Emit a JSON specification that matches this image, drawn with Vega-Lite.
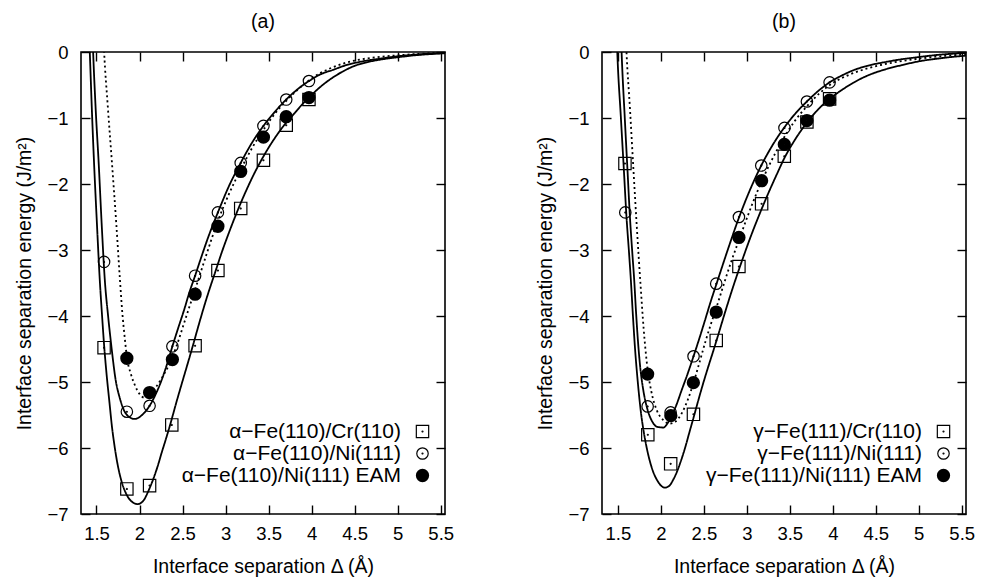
{
  "$schema": "https://vega.github.io/schema/vega-lite/v6.json",
  "background": "white",
  "padding": {"left": 14, "top": 10, "right": 5, "bottom": 5},
  "config": {
    "font": "Liberation Sans",
    "view": {"stroke": "black", "strokeWidth": 1.6},
    "axis": {"domain": false, "grid": false, "ticks": true, "tickColor": "black", "tickWidth": 1.4, "tickSize": -9, "labelColor": "black", "labelFontSize": 18.5, "labelFont": "Liberation Sans", "titleFont": "Liberation Sans", "titleFontSize": 19.5, "titleFontWeight": "normal", "titleColor": "black"},
    "title": {"fontSize": 19.5, "fontWeight": "normal", "font": "Liberation Sans", "color": "black"},
    "legend": {"orient": "none", "legendX": 331, "legendY": 369, "title": null, "labelFontSize": 21, "labelFont": "Liberation Sans", "labelColor": "black", "labelAlign": "right", "labelOffset": -32, "labelLimit": 400, "symbolSize": 169, "symbolStrokeWidth": 1.2, "symbolStrokeColor": "black", "symbolFillColor": "transparent", "rowPadding": 0, "padding": 0}
  },
  "datasets": {
    "pts_a": [
      {"series": "α−Fe(110)/Cr(110)", "x": 1.588, "y": -4.48},
      {"series": "α−Fe(110)/Cr(110)", "x": 1.853, "y": -6.62},
      {"series": "α−Fe(110)/Cr(110)", "x": 2.117, "y": -6.57},
      {"series": "α−Fe(110)/Cr(110)", "x": 2.375, "y": -5.65},
      {"series": "α−Fe(110)/Cr(110)", "x": 2.646, "y": -4.45},
      {"series": "α−Fe(110)/Cr(110)", "x": 2.911, "y": -3.31},
      {"series": "α−Fe(110)/Cr(110)", "x": 3.176, "y": -2.37},
      {"series": "α−Fe(110)/Cr(110)", "x": 3.44, "y": -1.64},
      {"series": "α−Fe(110)/Cr(110)", "x": 3.705, "y": -1.11},
      {"series": "α−Fe(110)/Cr(110)", "x": 3.969, "y": -0.72},
      {"series": "α−Fe(110)/Ni(111)", "x": 1.588, "y": -3.18},
      {"series": "α−Fe(110)/Ni(111)", "x": 1.853, "y": -5.45},
      {"series": "α−Fe(110)/Ni(111)", "x": 2.117, "y": -5.36},
      {"series": "α−Fe(110)/Ni(111)", "x": 2.382, "y": -4.46},
      {"series": "α−Fe(110)/Ni(111)", "x": 2.646, "y": -3.39},
      {"series": "α−Fe(110)/Ni(111)", "x": 2.911, "y": -2.43},
      {"series": "α−Fe(110)/Ni(111)", "x": 3.176, "y": -1.68},
      {"series": "α−Fe(110)/Ni(111)", "x": 3.44, "y": -1.12},
      {"series": "α−Fe(110)/Ni(111)", "x": 3.705, "y": -0.72},
      {"series": "α−Fe(110)/Ni(111)", "x": 3.969, "y": -0.44},
      {"series": "α−Fe(110)/Ni(111) EAM", "x": 1.853, "y": -4.64},
      {"series": "α−Fe(110)/Ni(111) EAM", "x": 2.117, "y": -5.16},
      {"series": "α−Fe(110)/Ni(111) EAM", "x": 2.382, "y": -4.66},
      {"series": "α−Fe(110)/Ni(111) EAM", "x": 2.646, "y": -3.67},
      {"series": "α−Fe(110)/Ni(111) EAM", "x": 2.911, "y": -2.64},
      {"series": "α−Fe(110)/Ni(111) EAM", "x": 3.176, "y": -1.81},
      {"series": "α−Fe(110)/Ni(111) EAM", "x": 3.44, "y": -1.29},
      {"series": "α−Fe(110)/Ni(111) EAM", "x": 3.705, "y": -0.98},
      {"series": "α−Fe(110)/Ni(111) EAM", "x": 3.969, "y": -0.69}
    ],
    "pts_b": [
      {"series": "γ−Fe(111)/Cr(110)", "x": 1.582, "y": -1.69},
      {"series": "γ−Fe(111)/Cr(110)", "x": 1.848, "y": -5.80},
      {"series": "γ−Fe(111)/Cr(110)", "x": 2.114, "y": -6.24},
      {"series": "γ−Fe(111)/Cr(110)", "x": 2.379, "y": -5.49},
      {"series": "γ−Fe(111)/Cr(110)", "x": 2.644, "y": -4.37},
      {"series": "γ−Fe(111)/Cr(110)", "x": 2.908, "y": -3.25},
      {"series": "γ−Fe(111)/Cr(110)", "x": 3.172, "y": -2.30},
      {"series": "γ−Fe(111)/Cr(110)", "x": 3.436, "y": -1.58},
      {"series": "γ−Fe(111)/Cr(110)", "x": 3.699, "y": -1.06},
      {"series": "γ−Fe(111)/Cr(110)", "x": 3.963, "y": -0.71},
      {"series": "γ−Fe(111)/Ni(111)", "x": 1.586, "y": -2.43},
      {"series": "γ−Fe(111)/Ni(111)", "x": 1.846, "y": -5.37},
      {"series": "γ−Fe(111)/Ni(111)", "x": 2.113, "y": -5.46},
      {"series": "γ−Fe(111)/Ni(111)", "x": 2.38, "y": -4.61},
      {"series": "γ−Fe(111)/Ni(111)", "x": 2.644, "y": -3.51},
      {"series": "γ−Fe(111)/Ni(111)", "x": 2.908, "y": -2.50},
      {"series": "γ−Fe(111)/Ni(111)", "x": 3.168, "y": -1.72},
      {"series": "γ−Fe(111)/Ni(111)", "x": 3.438, "y": -1.15},
      {"series": "γ−Fe(111)/Ni(111)", "x": 3.699, "y": -0.75},
      {"series": "γ−Fe(111)/Ni(111)", "x": 3.963, "y": -0.46},
      {"series": "γ−Fe(111)/Ni(111) EAM", "x": 1.846, "y": -4.88},
      {"series": "γ−Fe(111)/Ni(111) EAM", "x": 2.116, "y": -5.51},
      {"series": "γ−Fe(111)/Ni(111) EAM", "x": 2.378, "y": -5.01},
      {"series": "γ−Fe(111)/Ni(111) EAM", "x": 2.644, "y": -3.94},
      {"series": "γ−Fe(111)/Ni(111) EAM", "x": 2.908, "y": -2.81},
      {"series": "γ−Fe(111)/Ni(111) EAM", "x": 3.172, "y": -1.95},
      {"series": "γ−Fe(111)/Ni(111) EAM", "x": 3.436, "y": -1.40},
      {"series": "γ−Fe(111)/Ni(111) EAM", "x": 3.699, "y": -1.04},
      {"series": "γ−Fe(111)/Ni(111) EAM", "x": 3.963, "y": -0.73}
    ],
    "fit_a": [
      {"series": "Cr", "x": 1.40, "y": 0.7}, {"series": "Cr", "x": 1.422, "y": 0}, {"series": "Cr", "x": 1.447, "y": -0.9}, {"series": "Cr", "x": 1.473, "y": -1.72}, {"series": "Cr", "x": 1.505, "y": -2.6}, {"series": "Cr", "x": 1.538, "y": -3.45}, {"series": "Cr", "x": 1.565, "y": -4.0}, {"series": "Cr", "x": 1.589, "y": -4.45}, {"series": "Cr", "x": 1.62, "y": -4.92}, {"series": "Cr", "x": 1.65, "y": -5.3}, {"series": "Cr", "x": 1.68, "y": -5.68}, {"series": "Cr", "x": 1.712, "y": -5.99}, {"series": "Cr", "x": 1.75, "y": -6.28}, {"series": "Cr", "x": 1.79, "y": -6.5}, {"series": "Cr", "x": 1.84, "y": -6.68}, {"series": "Cr", "x": 1.90, "y": -6.8}, {"series": "Cr", "x": 1.98, "y": -6.85}, {"series": "Cr", "x": 2.05, "y": -6.79}, {"series": "Cr", "x": 2.10, "y": -6.66}, {"series": "Cr", "x": 2.157, "y": -6.48}, {"series": "Cr", "x": 2.21, "y": -6.28}, {"series": "Cr", "x": 2.26, "y": -6.06}, {"series": "Cr", "x": 2.31, "y": -5.85}, {"series": "Cr", "x": 2.362, "y": -5.62}, {"series": "Cr", "x": 2.43, "y": -5.30}, {"series": "Cr", "x": 2.49, "y": -5.03}, {"series": "Cr", "x": 2.56, "y": -4.72}, {"series": "Cr", "x": 2.62, "y": -4.45}, {"series": "Cr", "x": 2.70, "y": -4.08}, {"series": "Cr", "x": 2.78, "y": -3.73}, {"series": "Cr", "x": 2.886, "y": -3.31}, {"series": "Cr", "x": 2.96, "y": -3.02}, {"series": "Cr", "x": 3.05, "y": -2.70}, {"series": "Cr", "x": 3.15, "y": -2.37}, {"series": "Cr", "x": 3.25, "y": -2.07}, {"series": "Cr", "x": 3.33, "y": -1.85}, {"series": "Cr", "x": 3.415, "y": -1.64}, {"series": "Cr", "x": 3.50, "y": -1.45}, {"series": "Cr", "x": 3.59, "y": -1.27}, {"series": "Cr", "x": 3.68, "y": -1.11}, {"series": "Cr", "x": 3.80, "y": -0.93}, {"series": "Cr", "x": 3.90, "y": -0.78}, {"series": "Cr", "x": 4.0, "y": -0.65}, {"series": "Cr", "x": 4.1, "y": -0.53}, {"series": "Cr", "x": 4.22, "y": -0.41}, {"series": "Cr", "x": 4.356, "y": -0.30}, {"series": "Cr", "x": 4.5, "y": -0.21}, {"series": "Cr", "x": 4.627, "y": -0.16}, {"series": "Cr", "x": 4.8, "y": -0.115}, {"series": "Cr", "x": 5.0, "y": -0.08}, {"series": "Cr", "x": 5.2, "y": -0.05}, {"series": "Cr", "x": 5.4, "y": -0.03}, {"series": "Cr", "x": 5.55, "y": -0.018},
      {"series": "Ni", "x": 1.445, "y": 0.6}, {"series": "Ni", "x": 1.461, "y": 0}, {"series": "Ni", "x": 1.49, "y": -0.85}, {"series": "Ni", "x": 1.527, "y": -1.72}, {"series": "Ni", "x": 1.56, "y": -2.6}, {"series": "Ni", "x": 1.597, "y": -3.46}, {"series": "Ni", "x": 1.635, "y": -4.0}, {"series": "Ni", "x": 1.674, "y": -4.47}, {"series": "Ni", "x": 1.724, "y": -4.98}, {"series": "Ni", "x": 1.77, "y": -5.24}, {"series": "Ni", "x": 1.81, "y": -5.4}, {"series": "Ni", "x": 1.87, "y": -5.52}, {"series": "Ni", "x": 1.944, "y": -5.56}, {"series": "Ni", "x": 2.03, "y": -5.5}, {"series": "Ni", "x": 2.117, "y": -5.36}, {"series": "Ni", "x": 2.19, "y": -5.18}, {"series": "Ni", "x": 2.254, "y": -4.98}, {"series": "Ni", "x": 2.32, "y": -4.73}, {"series": "Ni", "x": 2.382, "y": -4.46}, {"series": "Ni", "x": 2.45, "y": -4.18}, {"series": "Ni", "x": 2.52, "y": -3.9}, {"series": "Ni", "x": 2.58, "y": -3.64}, {"series": "Ni", "x": 2.646, "y": -3.39}, {"series": "Ni", "x": 2.72, "y": -3.1}, {"series": "Ni", "x": 2.8, "y": -2.8}, {"series": "Ni", "x": 2.911, "y": -2.43}, {"series": "Ni", "x": 3.04, "y": -2.03}, {"series": "Ni", "x": 3.176, "y": -1.68}, {"series": "Ni", "x": 3.3, "y": -1.39}, {"series": "Ni", "x": 3.44, "y": -1.12}, {"series": "Ni", "x": 3.57, "y": -0.91}, {"series": "Ni", "x": 3.705, "y": -0.72}, {"series": "Ni", "x": 3.85, "y": -0.55}, {"series": "Ni", "x": 3.969, "y": -0.44}, {"series": "Ni", "x": 4.1, "y": -0.34}, {"series": "Ni", "x": 4.25, "y": -0.27}, {"series": "Ni", "x": 4.4, "y": -0.2}, {"series": "Ni", "x": 4.6, "y": -0.14}, {"series": "Ni", "x": 4.8, "y": -0.1}, {"series": "Ni", "x": 5.0, "y": -0.065}, {"series": "Ni", "x": 5.25, "y": -0.035}, {"series": "Ni", "x": 5.55, "y": -0.015},
      {"series": "EAM", "x": 1.575, "y": 0.4}, {"series": "EAM", "x": 1.589, "y": 0}, {"series": "EAM", "x": 1.63, "y": -0.8}, {"series": "EAM", "x": 1.682, "y": -1.72}, {"series": "EAM", "x": 1.73, "y": -2.6}, {"series": "EAM", "x": 1.77, "y": -3.4}, {"series": "EAM", "x": 1.8, "y": -3.95}, {"series": "EAM", "x": 1.83, "y": -4.35}, {"series": "EAM", "x": 1.853, "y": -4.62}, {"series": "EAM", "x": 1.9, "y": -4.88}, {"series": "EAM", "x": 1.95, "y": -5.06}, {"series": "EAM", "x": 2.0, "y": -5.18}, {"series": "EAM", "x": 2.06, "y": -5.24}, {"series": "EAM", "x": 2.117, "y": -5.2}, {"series": "EAM", "x": 2.19, "y": -5.08}, {"series": "EAM", "x": 2.254, "y": -4.95}, {"series": "EAM", "x": 2.32, "y": -4.8}, {"series": "EAM", "x": 2.382, "y": -4.62}, {"series": "EAM", "x": 2.44, "y": -4.42}, {"series": "EAM", "x": 2.5, "y": -4.18}, {"series": "EAM", "x": 2.57, "y": -3.9}, {"series": "EAM", "x": 2.646, "y": -3.6}, {"series": "EAM", "x": 2.78, "y": -3.06}, {"series": "EAM", "x": 2.911, "y": -2.56}, {"series": "EAM", "x": 3.04, "y": -2.15}, {"series": "EAM", "x": 3.176, "y": -1.78}, {"series": "EAM", "x": 3.31, "y": -1.45}, {"series": "EAM", "x": 3.44, "y": -1.18}, {"series": "EAM", "x": 3.57, "y": -0.94}, {"series": "EAM", "x": 3.705, "y": -0.74}, {"series": "EAM", "x": 3.83, "y": -0.58}, {"series": "EAM", "x": 3.969, "y": -0.43}, {"series": "EAM", "x": 4.1, "y": -0.32}, {"series": "EAM", "x": 4.23, "y": -0.24}, {"series": "EAM", "x": 4.356, "y": -0.18}, {"series": "EAM", "x": 4.5, "y": -0.13}, {"series": "EAM", "x": 4.75, "y": -0.08}, {"series": "EAM", "x": 5.0, "y": -0.05}, {"series": "EAM", "x": 5.25, "y": -0.028}, {"series": "EAM", "x": 5.55, "y": -0.012}
    ],
    "fit_b": [
      {"series": "Cr", "x": 1.48, "y": 0.5}, {"series": "Cr", "x": 1.493, "y": 0}, {"series": "Cr", "x": 1.535, "y": -1.0}, {"series": "Cr", "x": 1.57, "y": -1.8}, {"series": "Cr", "x": 1.6, "y": -2.5}, {"series": "Cr", "x": 1.63, "y": -3.05}, {"series": "Cr", "x": 1.651, "y": -3.46}, {"series": "Cr", "x": 1.675, "y": -4.0}, {"series": "Cr", "x": 1.698, "y": -4.47}, {"series": "Cr", "x": 1.73, "y": -4.98}, {"series": "Cr", "x": 1.767, "y": -5.45}, {"series": "Cr", "x": 1.8, "y": -5.75}, {"series": "Cr", "x": 1.834, "y": -5.99}, {"series": "Cr", "x": 1.892, "y": -6.29}, {"series": "Cr", "x": 1.962, "y": -6.5}, {"series": "Cr", "x": 2.047, "y": -6.6}, {"series": "Cr", "x": 2.1, "y": -6.57}, {"series": "Cr", "x": 2.144, "y": -6.48}, {"series": "Cr", "x": 2.19, "y": -6.35}, {"series": "Cr", "x": 2.24, "y": -6.17}, {"series": "Cr", "x": 2.29, "y": -5.96}, {"series": "Cr", "x": 2.326, "y": -5.79}, {"series": "Cr", "x": 2.38, "y": -5.54}, {"series": "Cr", "x": 2.435, "y": -5.28}, {"series": "Cr", "x": 2.49, "y": -5.03}, {"series": "Cr", "x": 2.551, "y": -4.77}, {"series": "Cr", "x": 2.6, "y": -4.57}, {"series": "Cr", "x": 2.65, "y": -4.36}, {"series": "Cr", "x": 2.75, "y": -3.93}, {"series": "Cr", "x": 2.85, "y": -3.52}, {"series": "Cr", "x": 2.95, "y": -3.14}, {"series": "Cr", "x": 3.05, "y": -2.78}, {"series": "Cr", "x": 3.15, "y": -2.45}, {"series": "Cr", "x": 3.25, "y": -2.14}, {"series": "Cr", "x": 3.35, "y": -1.85}, {"series": "Cr", "x": 3.436, "y": -1.61}, {"series": "Cr", "x": 3.55, "y": -1.35}, {"series": "Cr", "x": 3.699, "y": -1.07}, {"series": "Cr", "x": 3.83, "y": -0.87}, {"series": "Cr", "x": 3.963, "y": -0.71}, {"series": "Cr", "x": 4.1, "y": -0.58}, {"series": "Cr", "x": 4.233, "y": -0.47}, {"series": "Cr", "x": 4.4, "y": -0.36}, {"series": "Cr", "x": 4.62, "y": -0.26}, {"series": "Cr", "x": 4.8, "y": -0.2}, {"series": "Cr", "x": 5.01, "y": -0.14}, {"series": "Cr", "x": 5.25, "y": -0.095}, {"series": "Cr", "x": 5.55, "y": -0.055},
      {"series": "Ni", "x": 1.53, "y": 0.5}, {"series": "Ni", "x": 1.543, "y": 0}, {"series": "Ni", "x": 1.58, "y": -1.0}, {"series": "Ni", "x": 1.612, "y": -1.8}, {"series": "Ni", "x": 1.64, "y": -2.5}, {"series": "Ni", "x": 1.668, "y": -3.05}, {"series": "Ni", "x": 1.69, "y": -3.46}, {"series": "Ni", "x": 1.71, "y": -3.92}, {"series": "Ni", "x": 1.73, "y": -4.32}, {"series": "Ni", "x": 1.76, "y": -4.78}, {"series": "Ni", "x": 1.795, "y": -5.12}, {"series": "Ni", "x": 1.845, "y": -5.42}, {"series": "Ni", "x": 1.9, "y": -5.6}, {"series": "Ni", "x": 1.96, "y": -5.68}, {"series": "Ni", "x": 2.028, "y": -5.69}, {"series": "Ni", "x": 2.08, "y": -5.62}, {"series": "Ni", "x": 2.116, "y": -5.53}, {"series": "Ni", "x": 2.18, "y": -5.35}, {"series": "Ni", "x": 2.24, "y": -5.13}, {"series": "Ni", "x": 2.31, "y": -4.88}, {"series": "Ni", "x": 2.38, "y": -4.61}, {"series": "Ni", "x": 2.45, "y": -4.33}, {"series": "Ni", "x": 2.512, "y": -4.07}, {"series": "Ni", "x": 2.58, "y": -3.78}, {"series": "Ni", "x": 2.648, "y": -3.51}, {"series": "Ni", "x": 2.78, "y": -2.99}, {"series": "Ni", "x": 2.9, "y": -2.54}, {"series": "Ni", "x": 3.03, "y": -2.11}, {"series": "Ni", "x": 3.168, "y": -1.72}, {"series": "Ni", "x": 3.3, "y": -1.41}, {"series": "Ni", "x": 3.438, "y": -1.14}, {"series": "Ni", "x": 3.56, "y": -0.94}, {"series": "Ni", "x": 3.699, "y": -0.75}, {"series": "Ni", "x": 3.85, "y": -0.57}, {"series": "Ni", "x": 3.963, "y": -0.46}, {"series": "Ni", "x": 4.1, "y": -0.36}, {"series": "Ni", "x": 4.233, "y": -0.28}, {"series": "Ni", "x": 4.4, "y": -0.21}, {"series": "Ni", "x": 4.62, "y": -0.15}, {"series": "Ni", "x": 4.8, "y": -0.11}, {"series": "Ni", "x": 5.01, "y": -0.075}, {"series": "Ni", "x": 5.25, "y": -0.04}, {"series": "Ni", "x": 5.55, "y": -0.015},
      {"series": "EAM", "x": 1.59, "y": 0.3}, {"series": "EAM", "x": 1.6, "y": 0}, {"series": "EAM", "x": 1.64, "y": -0.85}, {"series": "EAM", "x": 1.678, "y": -1.72}, {"series": "EAM", "x": 1.72, "y": -2.65}, {"series": "EAM", "x": 1.764, "y": -3.54}, {"series": "EAM", "x": 1.8, "y": -4.2}, {"series": "EAM", "x": 1.845, "y": -4.8}, {"series": "EAM", "x": 1.89, "y": -5.15}, {"series": "EAM", "x": 1.95, "y": -5.42}, {"series": "EAM", "x": 2.03, "y": -5.58}, {"series": "EAM", "x": 2.1, "y": -5.63}, {"series": "EAM", "x": 2.17, "y": -5.6}, {"series": "EAM", "x": 2.24, "y": -5.48}, {"series": "EAM", "x": 2.31, "y": -5.28}, {"series": "EAM", "x": 2.378, "y": -5.02}, {"series": "EAM", "x": 2.45, "y": -4.7}, {"series": "EAM", "x": 2.52, "y": -4.38}, {"series": "EAM", "x": 2.58, "y": -4.13}, {"series": "EAM", "x": 2.644, "y": -3.88}, {"series": "EAM", "x": 2.744, "y": -3.47}, {"series": "EAM", "x": 2.82, "y": -3.17}, {"series": "EAM", "x": 2.908, "y": -2.85}, {"series": "EAM", "x": 3.0, "y": -2.52}, {"series": "EAM", "x": 3.133, "y": -2.08}, {"series": "EAM", "x": 3.27, "y": -1.69}, {"series": "EAM", "x": 3.4, "y": -1.37}, {"series": "EAM", "x": 3.55, "y": -1.06}, {"series": "EAM", "x": 3.7, "y": -0.82}, {"series": "EAM", "x": 3.85, "y": -0.62}, {"series": "EAM", "x": 4.0, "y": -0.47}, {"series": "EAM", "x": 4.2, "y": -0.34}, {"series": "EAM", "x": 4.427, "y": -0.24}, {"series": "EAM", "x": 4.7, "y": -0.16}, {"series": "EAM", "x": 5.01, "y": -0.1}, {"series": "EAM", "x": 5.25, "y": -0.065}, {"series": "EAM", "x": 5.55, "y": -0.035}
    ]
  },
  "hconcat": [
    {
      "title": {"text": "(a)", "offset": 11},
      "width": 364,
      "height": 462,
      "layer": [
        {
          "data": {"name": "fit_a"},
          "mark": {"type": "line", "clip": true, "interpolate": "monotone", "color": "black"},
          "encoding": {
            "x": {"field": "x", "type": "quantitative", "scale": {"domain": [1.32, 5.55], "nice": false, "zero": false}, "axis": {"orient": "bottom", "values": [1.5, 2, 2.5, 3, 3.5, 4, 4.5, 5, 5.5], "format": "~g", "title": "Interface separation Δ (Å)", "labelPadding": 19, "titlePadding": 15}},
            "y": {"field": "y", "type": "quantitative", "scale": {"domain": [-7, 0], "nice": false, "zero": false}, "axis": {"orient": "left", "values": [-7, -6, -5, -4, -3, -2, -1, 0], "title": "Interface separation energy (J/m²)", "labelPadding": 22, "titlePadding": 12}},
            "detail": {"field": "series", "type": "nominal"},
            "strokeDash": {"field": "series", "type": "nominal", "scale": {"domain": ["Cr", "Ni", "EAM"], "range": [[1, 0], [1, 0], [2, 3]]}, "legend": null},
            "strokeWidth": {"field": "series", "type": "nominal", "scale": {"domain": ["Cr", "Ni", "EAM"], "range": [1.8, 1.8, 1.2]}, "legend": null}
          }
        },
        {
          "data": {"name": "pts_a"},
          "mark": {"type": "point", "filled": false, "color": "black", "strokeWidth": 1.2, "size": 169, "opacity": 1},
          "encoding": {
            "x": {"field": "x", "type": "quantitative", "axis": null},
            "y": {"field": "y", "type": "quantitative", "axis": null},
            "shape": {"field": "series", "type": "nominal", "scale": {"domain": ["α−Fe(110)/Cr(110)", "α−Fe(110)/Ni(111)", "α−Fe(110)/Ni(111) EAM"], "range": [
              "M-0.95,-0.95H0.95V0.95H-0.95Z M0.07,0 A0.07,0.07 0 1,1 -0.07,0 A0.07,0.07 0 1,1 0.07,0 Z",
              "M0.88,0 A0.88,0.88 0 1,1 -0.88,0 A0.88,0.88 0 1,1 0.88,0 Z M0.07,0 A0.07,0.07 0 1,1 -0.07,0 A0.07,0.07 0 1,1 0.07,0 Z",
              "M0.93,0 A0.93,0.93 0 1,1 -0.93,0 A0.93,0.93 0 1,1 0.93,0 Z M0.79,0 A0.79,0.79 0 1,1 -0.79,0 A0.79,0.79 0 1,1 0.79,0 Z M0.65,0 A0.65,0.65 0 1,1 -0.65,0 A0.65,0.65 0 1,1 0.65,0 Z M0.51,0 A0.51,0.51 0 1,1 -0.51,0 A0.51,0.51 0 1,1 0.51,0 Z M0.37,0 A0.37,0.37 0 1,1 -0.37,0 A0.37,0.37 0 1,1 0.37,0 Z M0.23,0 A0.23,0.23 0 1,1 -0.23,0 A0.23,0.23 0 1,1 0.23,0 Z M0.1,0 A0.1,0.1 0 1,1 -0.1,0 A0.1,0.1 0 1,1 0.1,0 Z"
            ]}}
          }
        },
        {
          "data": {"name": "pts_a"},
          "mark": {"type": "point", "opacity": 0},
          "encoding": {
            "x": {"field": "x", "type": "quantitative", "axis": {"orient": "top", "labels": false, "title": null, "values": [1.5, 2, 2.5, 3, 3.5, 4, 4.5, 5, 5.5]}},
            "y": {"field": "y", "type": "quantitative", "axis": {"orient": "right", "labels": false, "title": null, "values": [-7, -6, -5, -4, -3, -2, -1, 0]}}
          }
        }
      ],
      "resolve": {"axis": {"x": "independent", "y": "independent"}}
    },
    {
      "title": {"text": "(b)", "offset": 11},
      "width": 364,
      "height": 462,
      "layer": [
        {
          "data": {"name": "fit_b"},
          "mark": {"type": "line", "clip": true, "interpolate": "monotone", "color": "black"},
          "encoding": {
            "x": {"field": "x", "type": "quantitative", "scale": {"domain": [1.315, 5.55], "nice": false, "zero": false}, "axis": {"orient": "bottom", "values": [1.5, 2, 2.5, 3, 3.5, 4, 4.5, 5, 5.5], "format": "~g", "title": "Interface separation Δ (Å)", "labelPadding": 19, "titlePadding": 15}},
            "y": {"field": "y", "type": "quantitative", "scale": {"domain": [-7, 0], "nice": false, "zero": false}, "axis": {"orient": "left", "values": [-7, -6, -5, -4, -3, -2, -1, 0], "title": "Interface separation energy (J/m²)", "labelPadding": 22, "titlePadding": 12}},
            "detail": {"field": "series", "type": "nominal"},
            "strokeDash": {"field": "series", "type": "nominal", "scale": {"domain": ["Cr", "Ni", "EAM"], "range": [[1, 0], [1, 0], [2, 3]]}, "legend": null},
            "strokeWidth": {"field": "series", "type": "nominal", "scale": {"domain": ["Cr", "Ni", "EAM"], "range": [1.8, 1.8, 1.2]}, "legend": null}
          }
        },
        {
          "data": {"name": "pts_b"},
          "mark": {"type": "point", "filled": false, "color": "black", "strokeWidth": 1.2, "size": 169, "opacity": 1},
          "encoding": {
            "x": {"field": "x", "type": "quantitative", "axis": null},
            "y": {"field": "y", "type": "quantitative", "axis": null},
            "shape": {"field": "series", "type": "nominal", "scale": {"domain": ["γ−Fe(111)/Cr(110)", "γ−Fe(111)/Ni(111)", "γ−Fe(111)/Ni(111) EAM"], "range": [
              "M-0.95,-0.95H0.95V0.95H-0.95Z M0.07,0 A0.07,0.07 0 1,1 -0.07,0 A0.07,0.07 0 1,1 0.07,0 Z",
              "M0.88,0 A0.88,0.88 0 1,1 -0.88,0 A0.88,0.88 0 1,1 0.88,0 Z M0.07,0 A0.07,0.07 0 1,1 -0.07,0 A0.07,0.07 0 1,1 0.07,0 Z",
              "M0.93,0 A0.93,0.93 0 1,1 -0.93,0 A0.93,0.93 0 1,1 0.93,0 Z M0.79,0 A0.79,0.79 0 1,1 -0.79,0 A0.79,0.79 0 1,1 0.79,0 Z M0.65,0 A0.65,0.65 0 1,1 -0.65,0 A0.65,0.65 0 1,1 0.65,0 Z M0.51,0 A0.51,0.51 0 1,1 -0.51,0 A0.51,0.51 0 1,1 0.51,0 Z M0.37,0 A0.37,0.37 0 1,1 -0.37,0 A0.37,0.37 0 1,1 0.37,0 Z M0.23,0 A0.23,0.23 0 1,1 -0.23,0 A0.23,0.23 0 1,1 0.23,0 Z M0.1,0 A0.1,0.1 0 1,1 -0.1,0 A0.1,0.1 0 1,1 0.1,0 Z"
            ]}}
          }
        },
        {
          "data": {"name": "pts_b"},
          "mark": {"type": "point", "opacity": 0},
          "encoding": {
            "x": {"field": "x", "type": "quantitative", "axis": {"orient": "top", "labels": false, "title": null, "values": [1.5, 2, 2.5, 3, 3.5, 4, 4.5, 5, 5.5]}},
            "y": {"field": "y", "type": "quantitative", "axis": {"orient": "right", "labels": false, "title": null, "values": [-7, -6, -5, -4, -3, -2, -1, 0]}}
          }
        }
      ],
      "resolve": {"axis": {"x": "independent", "y": "independent"}}
    }
  ],
  "spacing": 80,
  "resolve": {"scale": {"shape": "independent"}, "legend": {"shape": "independent"}}
}
